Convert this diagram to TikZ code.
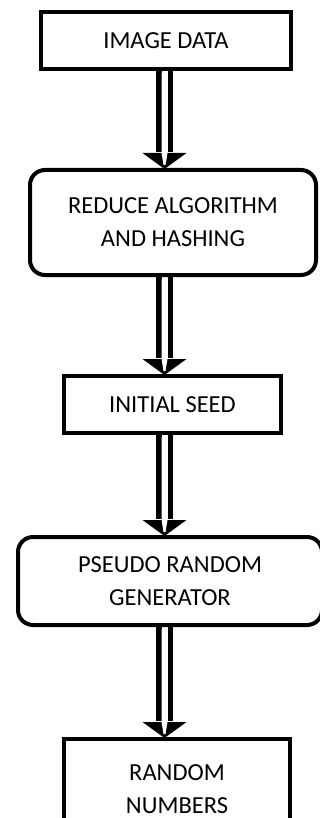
\documentclass[tikz,border=0pt]{standalone}
\usepackage{fontspec}
\setmainfont{Carlito}
\usetikzlibrary{calc}
\begin{document}
\begin{tikzpicture}[x=1pt,y=-1pt,
  box/.style={draw,line width=4pt,inner sep=0pt,align=center,
    font=\fontsize{24.5}{33}\selectfont},
  rbox/.style={box,rounded corners=15pt},
  shaft/.style={line width=5.5pt},
  head/.style={fill=black},
  gap/.style={fill=white}]
\useasboundingbox (0,0) rectangle (320,818);
\clip (0,0) rectangle (320,818);
\coordinate (ax) at (164.5,0);
\node[box,minimum width=250pt,minimum height=57pt] (b1) at (166,40.5) {IMAGE DATA};
\node[rbox,minimum width=286pt,minimum height=105pt] (b2) at (173,222.5) {REDUCE ALGORITHM\\AND HASHING};
\node[box,minimum width=217pt,minimum height=57pt] (b3) at (172.5,404.5) {INITIAL SEED};
\node[rbox,minimum width=304pt,minimum height=88pt] (b4) at (170,581) {PSEUDO RANDOM\\GENERATOR};
\node[box,minimum width=226pt,minimum height=100pt] (b5) at (177,789) {RANDOM\\NUMBERS};
\newcommand\blockarrow[2]{%
  \draw[shaft] ($(ax |- #1.south)+(-5.75,0)$) -- ($(ax |- #2.north)+(-5.75,-16)$);
  \draw[shaft] ($(ax |- #1.south)+(5.75,0)$) -- ($(ax |- #2.north)+(5.75,-16)$);
  \path[head] ($(ax |- #2.north)+(-22,-15)$) -- ($(ax |- #2.north)+(22,-15)$)
    -- ($(ax |- #2.north)+(0,1)$) -- cycle;
  \path[gap] ($(ax |- #1.south)+(-3,2)$) -- ($(ax |- #1.south)+(3,2)$)
    -- ($(ax |- #2.north)+(3,-15)$) -- ($(ax |- #2.north)+(1,-3)$)
    -- ($(ax |- #2.north)+(-1,-3)$) -- ($(ax |- #2.north)+(-3,-15)$) -- cycle;}
\blockarrow{b1}{b2}
\blockarrow{b2}{b3}
\blockarrow{b3}{b4}
\blockarrow{b4}{b5}
\end{tikzpicture}
\end{document}
